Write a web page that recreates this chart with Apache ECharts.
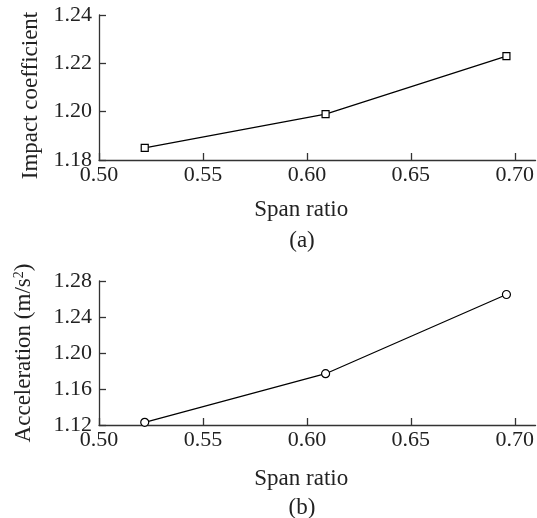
<!DOCTYPE html>
<html>
<head>
<meta charset="utf-8">
<script src="https://cdn.jsdelivr.net/npm/echarts@6/dist/echarts.min.js"></script>
<style>
  html, body { margin: 0; padding: 0; background: #fff; }
  #chart { width: 537px; height: 518px; }
</style>
</head>
<body>
<div id="chart"></div>
<script>
// span ratio values (shared by both panels)
var spanRatio = [0.522, 0.609, 0.696];
// (a) impact coefficient
var impactCoef = [1.185, 1.199, 1.223];
// (b) acceleration, m/s^2
var acceleration = [1.123, 1.177, 1.265];

var xTicks = [0.50, 0.55, 0.60, 0.65, 0.70];

var font = '"Liberation Serif", "Times New Roman", serif';
var ink = '#222';

function pairs(xs, ys) {
  return xs.map(function (x, i) { return [x, ys[i]]; });
}

function xAxisOf(gridIndex, gap) {
  return {
    type: 'value',
    gridIndex: gridIndex,
    min: 0.5,
    max: 0.71,
    interval: 0.05,
    name: 'Span ratio',
    nameLocation: 'middle',
    nameGap: gap,
    nameTextStyle: { fontFamily: font, fontSize: 23, color: ink, padding: [0, 32, 0, 0] },
    splitLine: { show: false },
    axisLine: { lineStyle: { color: '#333', width: 1.3 } },
    axisTick: { inside: true, length: 7, customValues: xTicks, lineStyle: { color: '#333', width: 1.3 } },
    axisLabel: {
      customValues: xTicks,
      fontFamily: font, fontSize: 22, color: ink, margin: 4,
      formatter: function (v) { return v.toFixed(2); }
    }
  };
}

function yAxisOf(gridIndex, min, max, step, name, gap, pad) {
  return {
    type: 'value',
    gridIndex: gridIndex,
    min: min,
    max: max,
    interval: step,
    name: name,
    nameLocation: 'middle',
    nameGap: gap,
    nameTextStyle: {
      fontFamily: font, fontSize: 23, color: ink, padding: pad,
      rich: { sup: { fontFamily: font, fontSize: 14, color: ink, verticalAlign: 'top', padding: [0, 0, 10, 0] } }
    },
    splitLine: { show: false },
    axisLine: { show: true, lineStyle: { color: '#333', width: 1.3 } },
    axisTick: { inside: true, length: 7, lineStyle: { color: '#333', width: 1.3 } },
    axisLabel: {
      fontFamily: font, fontSize: 22, color: ink, margin: 7,
      formatter: function (v) { return v.toFixed(2); }
    }
  };
}

var chart = echarts.init(document.getElementById('chart'));
chart.setOption({
  animation: false,
  backgroundColor: '#fff',
  grid: [
    { left: 99, top: 15, right: 0, height: 145 },
    { left: 99, top: 281, right: 0, height: 144 }
  ],
  xAxis: [xAxisOf(0, 38), xAxisOf(1, 42)],
  yAxis: [
    yAxisOf(0, 1.18, 1.24, 0.02, 'Impact coefficient', 48, [0, 16, 0, 0]),
    yAxisOf(1, 1.12, 1.28, 0.04, 'Acceleration (m/s{sup|2})', 63, 0)
  ],
  series: [
    {
      type: 'line', xAxisIndex: 0, yAxisIndex: 0,
      data: pairs(spanRatio, impactCoef),
      symbol: 'rect', symbolSize: 7,
      lineStyle: { color: '#000', width: 1.2 },
      itemStyle: { color: '#fff', borderColor: '#000', borderWidth: 1.2 }
    },
    {
      type: 'line', xAxisIndex: 1, yAxisIndex: 1,
      data: pairs(spanRatio, acceleration),
      symbol: 'circle', symbolSize: 8,
      lineStyle: { color: '#000', width: 1.2 },
      itemStyle: { color: '#fff', borderColor: '#000', borderWidth: 1.2 }
    }
  ],
  graphic: [
    { type: 'text', x: 302, y: 241, style: { text: '(a)', font: '23px ' + font, fill: ink, textAlign: 'center', textVerticalAlign: 'middle' } },
    { type: 'text', x: 302, y: 508, style: { text: '(b)', font: '23px ' + font, fill: ink, textAlign: 'center', textVerticalAlign: 'middle' } }
  ]
});
</script>
</body>
</html>
